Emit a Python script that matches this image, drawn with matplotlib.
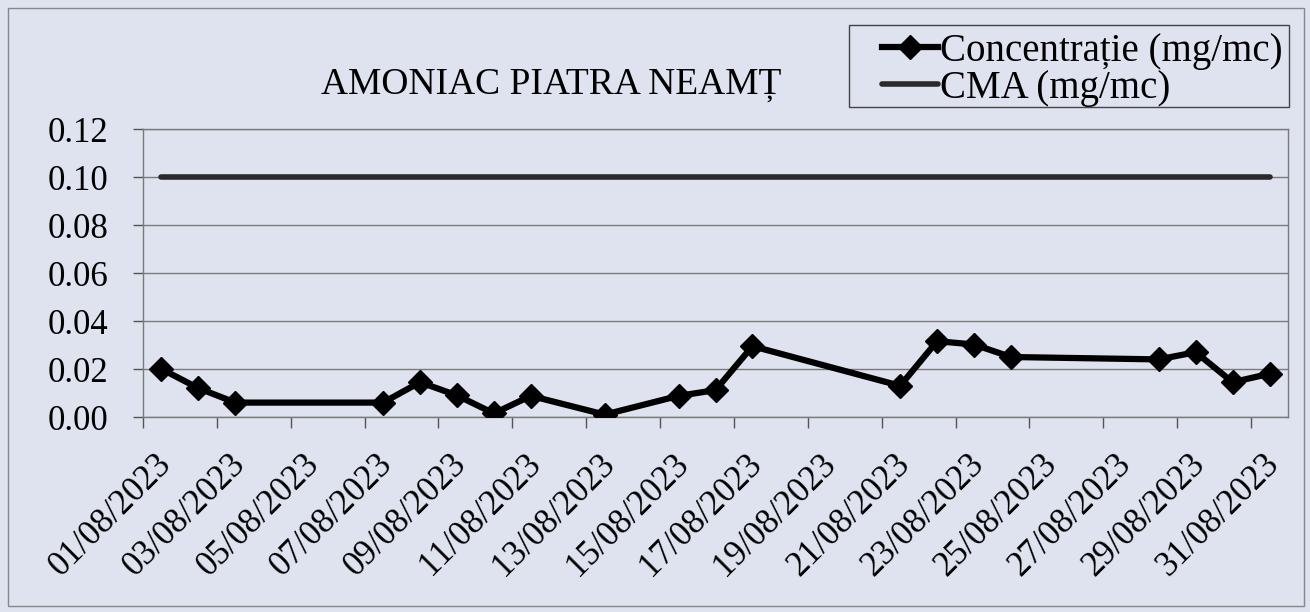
import matplotlib
matplotlib.use("Agg")
import matplotlib.pyplot as plt
import matplotlib.transforms as mtransforms
from matplotlib.patches import Rectangle
from datetime import datetime, timedelta

plt.rcParams['font.family'] = ['Liberation Serif', 'DejaVu Serif']

# ---- data ----
days = [1, 2, 3, 7, 8, 9, 10, 11, 13, 15, 16, 17, 21, 22, 23, 24, 28, 29, 30, 31]
concentratie = [0.020, 0.012, 0.006, 0.006, 0.0145, 0.009, 0.0015, 0.0088, 0.001,
                0.0088, 0.0112, 0.0295, 0.013, 0.0316, 0.0302, 0.025, 0.024, 0.027,
                0.0145, 0.018]
cma = [0.10] * len(days)
label_days = list(range(1, 32, 2))
y_ticks = [0.00, 0.02, 0.04, 0.06, 0.08, 0.10, 0.12]

title = "AMONIAC PIATRA NEAMȚ"
series_names = ["Concentrație (mg/mc)", "CMA (mg/mc)"]

dates = [datetime(2023, 8, d) for d in days]
label_dates = [datetime(2023, 8, d) for d in label_days]

bg = '#dfe2ef'
fig = plt.figure(figsize=(13.10, 6.12), dpi=100, facecolor=bg)
ax = fig.add_axes([143/1310, 1 - 417/612, (1288 - 143)/1310, (417 - 129)/612])
ax.set_facecolor(bg)

l1, = ax.plot(dates, concentratie, color='black', lw=4.5, marker='D', ms=12,
              markerfacecolor='black', markeredgecolor='black', zorder=4)
l2, = ax.plot(dates, cma, color='#2a2a2a', lw=4.0, solid_capstyle='round', zorder=3)

start = datetime(2023, 8, 1) - timedelta(hours=12)
end = datetime(2023, 8, 31) + timedelta(hours=12)
ax.set_xlim(start, end)
ax.set_ylim(0, 0.12)

ax.set_yticks(y_ticks)
ax.set_yticklabels([f"{v:.2f}" for v in y_ticks], fontsize=25)
ax.tick_params(axis='y', length=7, width=1, color='#555555', pad=18)

ax.set_xticks(label_dates)
ax.set_xticklabels([d.strftime('%d/%m/%Y') for d in label_dates], fontsize=25,
                   rotation=45, ha='right', va='top', rotation_mode='anchor')
ax.tick_params(axis='x', which='major', length=0, pad=22)
shift = mtransforms.ScaledTranslation(-7/100, 0, fig.dpi_scale_trans)
for lab in ax.get_xticklabels():
    lab.set_transform(lab.get_transform() + shift)
minor = [start + timedelta(days=2 * k) for k in range(16)]
ax.set_xticks(minor, minor=True)
ax.tick_params(axis='x', which='minor', length=8, width=1, color='#555555')

ax.yaxis.grid(True, color='#7a7a7a', lw=1.0)
ax.set_axisbelow(True)
for s in ax.spines.values():
    s.set_color('#7a7a7a')
    s.set_linewidth(1.0)

fig.text(551/1310, 1 - 85/612, title, ha='center', va='center', fontsize=27)

leg = fig.legend([l1, l2], series_names, loc='upper right',
                 bbox_to_anchor=(1283/1310, 1 - 33/612), fontsize=28,
                 frameon=False, handlelength=1.45,
                 handletextpad=0.05, borderpad=0.0, labelspacing=0.0,
                 borderaxespad=0)

# legend frame
fig.patches.append(Rectangle((849/1310, 1 - 107/612), (1289 - 849)/1310, 82/612,
                             transform=fig.transFigure, fill=False,
                             edgecolor='#444444', lw=1.0))
# outer chart border
fig.patches.append(Rectangle((8/1310, 6/612), 1 - 14/1310, 1 - 14/612,
                             transform=fig.transFigure, fill=False,
                             edgecolor='#888888', lw=1.0))

fig.savefig('out.png', dpi=100, facecolor=bg)
